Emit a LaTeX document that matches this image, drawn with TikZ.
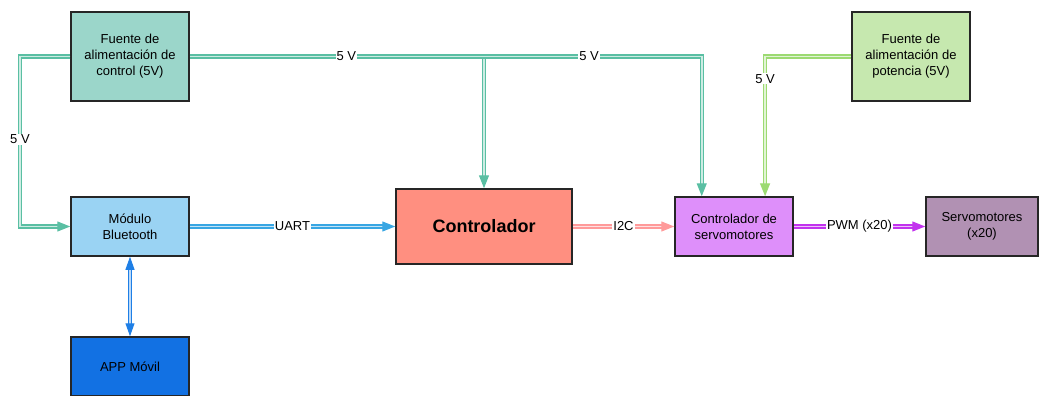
\documentclass[tikz,border=0pt]{standalone}
\usepackage{fontspec}
\setmainfont{Liberation Sans}
\usetikzlibrary{arrows.meta, calc}

% box fills
\definecolor{ctrlsrc}{HTML}{9BD6CA}
\definecolor{powsrc}{HTML}{C6E8AF}
\definecolor{btfill}{HTML}{9AD3F3}
\definecolor{appfill}{HTML}{1271E3}
\definecolor{mcufill}{HTML}{FF8F80}
\definecolor{drvfill}{HTML}{DE8FFA}
\definecolor{srvfill}{HTML}{B191B3}
% wire colours
\definecolor{ctrlwire}{HTML}{5ABFA3}
\definecolor{powwire}{HTML}{9CDA72}
\definecolor{uartwire}{HTML}{38A6E3}
\definecolor{appwire}{HTML}{1E7FE6}
\definecolor{i2cwire}{HTML}{FF9A9A}
\definecolor{pwmwire}{HTML}{C232EE}

\begin{document}
\begin{tikzpicture}[
  x=1pt, y=-1pt,
  every node/.style={font=\fontsize{13}{16}\selectfont},
  block/.style={
    rectangle, draw=black!85, line width=1.5pt,
    minimum width=118pt, minimum height=59pt,
    align=center, inner sep=2pt,
  },
  wire/.style={line width=1.3pt, double distance=1.8pt,
    -{Triangle[length=13pt, width=10pt]}},
  wirecol/.style={draw=#1, double=#1!30!white},
  tag/.style={fill=white, inner sep=1pt},
]
  \useasboundingbox (0,0) rectangle (1039,396);

  \node[block, fill=ctrlsrc, minimum height=89pt] (fc) at (130,56.5) {Fuente de\\alimentación de\\control (5V)};
  \node[block, fill=powsrc, minimum height=89pt] (fp) at (911,56.5) {Fuente de\\alimentación de\\potencia (5V)};
  \node[block, fill=btfill] (bt) at (130,226.5) {Módulo\\Bluetooth};
  \node[block, fill=appfill] (app) at (130,366.5) {APP Móvil};
  \node[block, fill=mcufill, minimum width=176pt, minimum height=75pt,
        font=\fontsize{18}{22}\selectfont\bfseries] (mcu) at (484,226.5) {Controlador};
  \node[block, fill=drvfill] (drv) at (734,226.5) {Controlador de\\servomotores};
  \node[block, fill=srvfill, minimum width=112pt] (srv) at (982,226.5) {Servomotores\\(x20)};

  % supply taps
  \coordinate (lft) at (20,56.5);
  \coordinate (tap) at (fc.east -| mcu.north);
  \coordinate (drvA) at ($(drv.north west)!0.23!(drv.north east)$);
  \coordinate (drvB) at ($(drv.north west)!0.76!(drv.north east)$);

  % 5 V control rail
  \draw[wire, wirecol=ctrlwire] (tap) -- (mcu.north);
  \draw[wire, wirecol=ctrlwire] (fc.east) -- (fc.east -| drvA)
    node[tag, pos=0.306] {5 V} node[tag, pos=0.78] {5 V} -- (drvA);
  \draw[wire, wirecol=ctrlwire] (fc.west) -- (lft) |- (bt.west)
    node[tag, pos=0.244] {5 V};

  % 5 V power rail
  \draw[wire, wirecol=powwire] (fp.west) -| (drvB) node[tag, pos=0.58] {5 V};

  % data links
  \draw[wire, wirecol=uartwire] (bt) -- (mcu) node[tag, midway] {UART};
  \draw[wire, wirecol=i2cwire] (mcu) -- (drv) node[tag, midway] {I2C};
  \draw[wire, wirecol=pwmwire] (drv) -- (srv) node[tag, midway] {PWM (x20)};
  \draw[line width=1pt, double distance=1.6pt, wirecol=appwire,
        {Triangle[length=13pt, width=9pt]}-{Triangle[length=13pt, width=9pt]}] (bt) -- (app);
\end{tikzpicture}
\end{document}
